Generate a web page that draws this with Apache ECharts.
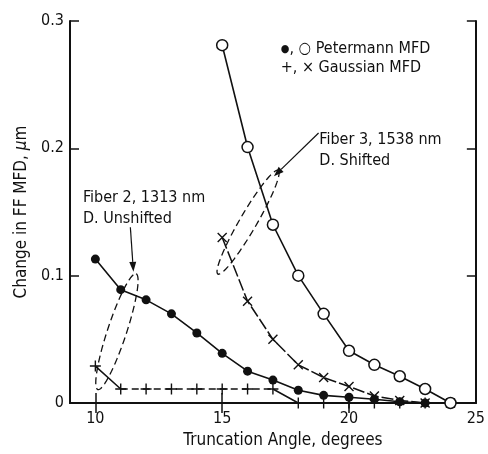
<!DOCTYPE html>
<html>
<head>
<meta charset="utf-8">
<script src="https://cdn.jsdelivr.net/npm/echarts@6/dist/echarts.min.js"></script>
<style>
html,body{margin:0;padding:0;background:#fff;}
#chart{width:488px;height:454px;}
</style>
</head>
<body>
<div id="chart"></div>
<script>
// ---- data ----
const fiber2Angles = [10, 11, 12, 13, 14, 15, 16, 17, 18, 19, 20, 21, 22, 23, 24];
const fiber2Petermann = [0.113, 0.089, 0.081, 0.070, 0.055, 0.039, 0.025, 0.018, 0.010, 0.006, 0.0045, 0.003, 0.001, 0, 0];
const fiber2Gaussian = [0.029, 0.011, 0.011, 0.011, 0.011, 0.011, 0.011, 0.011, 0, 0, 0, 0, 0, 0, 0];
const fiber3Angles = [15, 16, 17, 18, 19, 20, 21, 22, 23, 24];
const fiber3Petermann = [0.281, 0.201, 0.140, 0.100, 0.070, 0.041, 0.030, 0.021, 0.011, 0];
const fiber3Gaussian = [0.130, 0.080, 0.050, 0.030, 0.020, 0.013, 0.0055, 0.002, 0, 0];
const xTickLabels = [10, 15, 20, 25];
const yTickLabels = [0, 0.1, 0.2, 0.3];

const FONT = "'Liberation Sans Narrow','DejaVu Sans Condensed','Liberation Sans',sans-serif";
const INK = '#111';

const pairs = (xs, ys) => xs.map((x, i) => [x, ys[i]]);
const PLUS = 'path://M5,0L5,10M0,5L10,5';
const CROSS = 'path://M0,0L10,10M10,0L0,10';

// Gaussian fiber 2: solid first and last segments, dashed middle
const g2 = pairs(fiber2Angles, fiber2Gaussian);
const g2Solid = g2.map((p, i) => (i <= 1 || i >= 7) ? p : [p[0], null]);
const g2Dashed = g2.map((p, i) => (i >= 1 && i <= 7) ? p : [p[0], null]);

const chart = echarts.init(document.getElementById('chart'), null, {renderer: 'canvas'});

const axisLine = {show: true, lineStyle: {color: INK, width: 2}};
const option = {
  backgroundColor: '#fff',
  animation: false,
  grid: {left: 70, right: 8, top: 21, bottom: 47},
  xAxis: [{
    type: 'value', min: 9, max: 25, position: 'bottom',
    axisLine: axisLine,
    axisTick: {show: true, inside: true, length: 10, customValues: xTickLabels, lineStyle: {color: INK, width: 1.5}},
    axisLabel: {customValues: xTickLabels, color: INK, fontFamily: FONT, fontSize: 16, margin: 8},
    splitLine: {show: false},
    name: 'Truncation Angle, degrees', nameLocation: 'middle', nameGap: 29,
    nameTextStyle: {color: INK, fontFamily: FONT, fontSize: 17, padding: [0, 0, 0, 20]}
  }, {
    type: 'value', min: 9, max: 25, position: 'top',
    axisLine: axisLine,
    axisTick: {show: true, inside: true, length: 10, customValues: [10, 15, 20], lineStyle: {color: INK, width: 1.5}},
    axisLabel: {show: false}, splitLine: {show: false}
  }],
  yAxis: [{
    type: 'value', min: 0, max: 0.3, interval: 0.1, position: 'left',
    axisLine: axisLine,
    axisTick: {show: true, inside: true, length: 9, lineStyle: {color: INK, width: 1.5}},
    axisLabel: {color: INK, fontFamily: FONT, fontSize: 16, margin: 6,
      formatter: v => (v === 0 ? '0' : v.toFixed(1))},
    splitLine: {show: false},
    name: 'Change in FF MFD, {i|μ}m', nameLocation: 'middle', nameGap: 34,
    nameTextStyle: {color: INK, fontFamily: FONT, fontSize: 17,
      rich: {i: {fontStyle: 'italic', fontFamily: FONT, fontSize: 17, color: INK}}}
  }, {
    type: 'value', min: 0, max: 0.3, interval: 0.1, position: 'right',
    axisLine: axisLine,
    axisTick: {show: true, inside: true, length: 9, lineStyle: {color: INK, width: 1.5}},
    axisLabel: {show: false}, splitLine: {show: false}
  }],
  series: [
    {
      type: 'line', name: 'F2 Gaussian solid', data: g2Solid, connectNulls: false,
      lineStyle: {color: INK, width: 1.5}, symbol: 'none', z: 2
    },
    {
      type: 'line', name: 'F2 Gaussian dashed', data: g2Dashed, connectNulls: false,
      lineStyle: {color: INK, width: 1.5, type: [7, 4]}, symbol: 'none', z: 2
    },
    {
      type: 'line', name: 'F2 Gaussian markers', data: g2,
      lineStyle: {width: 0, opacity: 0}, symbol: PLUS, symbolSize: 11,
      itemStyle: {color: INK, borderColor: INK, borderWidth: 1.4}, z: 4
    },
    {
      type: 'line', name: 'F3 Gaussian', data: pairs(fiber3Angles, fiber3Gaussian),
      lineStyle: {color: INK, width: 1.5, type: [12, 3]}, symbol: CROSS, symbolSize: 9,
      itemStyle: {color: INK, borderColor: INK, borderWidth: 1.4}, z: 3
    },
    {
      type: 'line', name: 'F2 Petermann', data: pairs(fiber2Angles, fiber2Petermann),
      lineStyle: {color: INK, width: 1.6}, symbol: 'circle', symbolSize: 9,
      itemStyle: {color: INK}, z: 5
    },
    {
      type: 'line', name: 'F3 Petermann', data: pairs(fiber3Angles, fiber3Petermann),
      lineStyle: {color: INK, width: 1.6}, symbol: 'circle', symbolSize: 11,
      itemStyle: {color: '#fff', borderColor: INK, borderWidth: 1.5}, z: 5
    }
  ]
};
chart.setOption(option);

// ---- annotations (data coordinates) ----
const px = p => chart.convertToPixel({gridIndex: 0}, p);
function ellipsePoints(centerData, semiMajor, semiMinor, angleDeg) {
  const c = px(centerData);
  const a = angleDeg * Math.PI / 180;
  const ux = Math.cos(a), uy = -Math.sin(a);
  const vx = Math.sin(a), vy = Math.cos(a);
  const pts = [];
  for (let k = 0; k < 72; k++) {
    const t = k / 72 * 2 * Math.PI;
    pts.push([c[0] + semiMajor * Math.cos(t) * ux + semiMinor * Math.sin(t) * vx,
              c[1] + semiMajor * Math.cos(t) * uy + semiMinor * Math.sin(t) * vy]);
  }
  return pts;
}
function arrow(fromData, toData) {
  const a = px(fromData), b = px(toData);
  const ang = Math.atan2(b[1] - a[1], b[0] - a[0]);
  const L = 10, W = 3.5;
  const bx = b[0] - L * Math.cos(ang), by = b[1] - L * Math.sin(ang);
  return [
    {type: 'line', shape: {x1: a[0], y1: a[1], x2: bx, y2: by}, style: {stroke: INK, lineWidth: 1.2}},
    {type: 'polygon', shape: {points: [[b[0], b[1]],
      [bx + W * Math.sin(ang), by - W * Math.cos(ang)],
      [bx - W * Math.sin(ang), by + W * Math.cos(ang)]]}, style: {fill: INK}}
  ];
}
function label(posData, text, size) {
  const p = px(posData);
  return {type: 'text', x: p[0], y: p[1],
    style: {text: text, fill: INK, font: size + 'px ' + FONT, verticalAlign: 'middle', align: 'left',
      rich: {b: {fontSize: 11, fontFamily: FONT, fill: INK, color: INK}}}};
}

const graphics = [
  {type: 'polygon', shape: {points: ellipsePoints([10.85, 0.056], 61, 9.5, 71.7)},
    style: {fill: 'none', stroke: INK, lineWidth: 1.3, lineDash: [7, 4]}, z: 10},
  {type: 'polygon', shape: {points: ellipsePoints([16.02, 0.142], 60, 8.5, 59.8)},
    style: {fill: 'none', stroke: INK, lineWidth: 1.3, lineDash: [7, 4]}, z: 10},
  ...arrow([11.38, 0.138], [11.5, 0.103]),
  ...arrow([18.8, 0.212], [17.04, 0.178]),
  label([9.51, 0.161], 'Fiber 2, 1313 nm', 16),
  label([9.51, 0.145], 'D. Unshifted', 16),
  label([18.83, 0.207], 'Fiber 3, 1538 nm', 16),
  label([18.83, 0.190], 'D. Shifted', 16),
  label([17.31, 0.278], '{b|●}, ○ Petermann MFD', 16),
  label([17.31, 0.263], '+, × Gaussian MFD', 16)
];
chart.setOption({graphic: graphics});
</script>
</body>
</html>
